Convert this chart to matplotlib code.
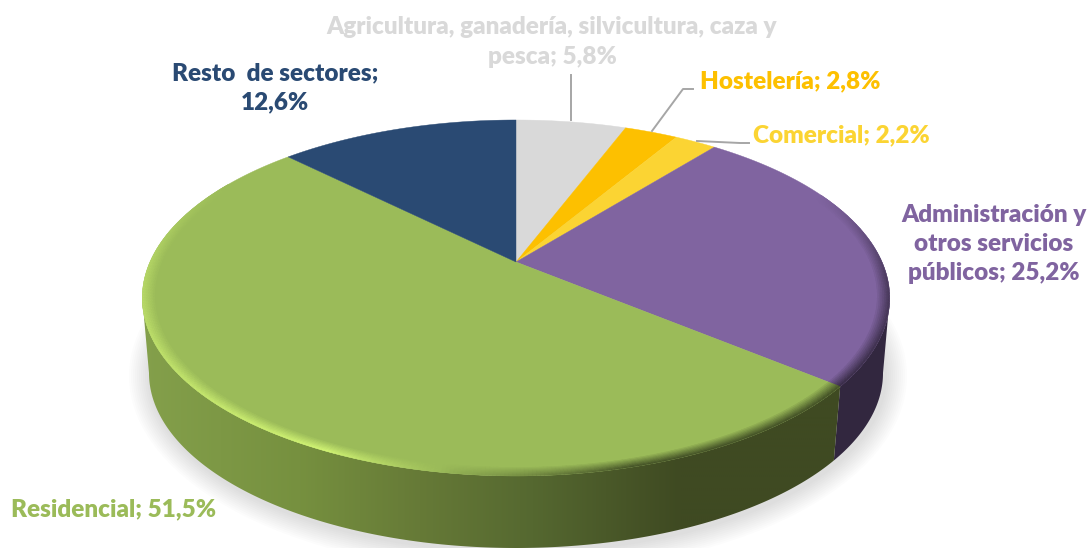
import numpy as np
import matplotlib
matplotlib.use("Agg")
import matplotlib.pyplot as plt
from matplotlib.collections import PolyCollection
from matplotlib.colors import to_rgb
from matplotlib.patches import Ellipse, Polygon

# sectors, clockwise from 12 o'clock
sectors = ["Agricultura", "Hostelería", "Comercial", "Administración", "Residencial", "Resto"]
values = [5.8, 2.8, 2.2, 25.2, 51.5, 12.6]
colors = ["#d9d9d9", "#fdc000", "#fbd433", "#8064a0", "#9bbb59", "#2a4a73"]
labels = [
    "Agricultura, ganadería, silvicultura, caza y\npesca; 5,8%",
    "Hostelería; 2,8%",
    "Comercial; 2,2%",
    "Administración y\notros servicios\npúblicos; 25,2%",
    "Residencial; 51,5%",
    "Resto  de sectores;\n12,6%",
]
label_pos = [(552, 42), (790, 81), (841, 135), (994, 244), (114, 509), (275, 88)]

# geometry of the tilted disc, in image pixels
CX, CY = 516, 262
K, A, S = 0.202, 170.7, 366
BOT_CY, BOT_RX, BOT_RY = 373, 367, 175


def top(theta, r=1.0):
    t = np.radians(theta)
    x, y = r * np.sin(t), r * np.cos(t)
    d = 1 + K * y
    return CX + S * x / d, CY - A * y / d


def bottom(phi):
    t = np.radians(phi)
    return CX + BOT_RX * np.sin(t), BOT_CY - BOT_RY * np.cos(t)


def arc(func, a, b, *args):
    th = np.linspace(a, b, 200)
    x, y = func(th, *args)
    return np.column_stack([x, y])


edges = 360 * np.concatenate([[0], np.cumsum(values)]) / np.sum(values)

fig = plt.figure(figsize=(10.91, 5.48), dpi=100)
ax = fig.add_axes([0, 0, 1, 1])

# soft shadow below the disc
for d in np.arange(22, 0, -2):
    ax.add_patch(Ellipse((CX + 2, BOT_CY + 3), 2 * (BOT_RX + d), 2 * (BOT_RY + d),
                         fc="#808080", ec="none", alpha=0.025, zorder=1))

# side wall: purple part, then green part with its gradient
i_adm, i_res = 3, 4
seam = edges[i_adm + 1]
right = np.vstack([arc(top, 101.7, seam), arc(bottom, 120, 90)])
ax.add_patch(Polygon(right, fc="#32273f", ec="none", zorder=2))

left = np.vstack([arc(top, seam, 258.3), arc(bottom, 270, 120)])
clip = Polygon(left, fc="none", ec="none", zorder=2)
ax.add_patch(clip)
grad_x = [140, 300, 420, 533, 680, 840]
grad_c = ["#84a04b", "#76903f", "#667a37", "#556830", "#3f4a22", "#3f4a22"]
xs = np.linspace(140, 840, 350)
rgb = np.array([to_rgb(c) for c in grad_c])
img = np.stack([np.interp(xs, grad_x, rgb[:, i]) for i in range(3)], axis=1)[None, :, :]
im = ax.imshow(img, extent=(140, 840, 550, 100), aspect="auto", zorder=2, interpolation="bilinear")
im.set_clip_path(clip)

# top face
for a, b, c in zip(edges[:-1], edges[1:], colors):
    pts = np.vstack([[[CX, CY]], arc(top, a, b)])
    ax.add_patch(Polygon(pts, fc=c, ec=c, lw=0.3, zorder=3))

# bevel round the rim: lit at front left, dark at front right
light_th = [0, 65, 95, 130, 165, 188, 205, 240, 270, 300, 360]
light_v = [0, 0, -0.7, -0.95, -0.95, -0.1, 0.9, 0.6, 0.4, 0, 0]
quads, fc = [], []
rs = np.linspace(0.968, 1.0, 8)
for a, b, c in zip(edges[:-1], edges[1:], colors):
    base = np.array(to_rgb(c))
    dark = base * 0.42
    bright = np.clip(base * 1.1 + np.array([0.17, 0.17, 0.08]), 0, 1)
    th = np.arange(a, b + 0.5, 0.5)
    th[-1] = b
    for t0, t1 in zip(th[:-1], th[1:]):
        lv = np.interp((t0 + t1) / 2, light_th, light_v)
        if lv == 0:
            continue
        for j, (r0, r1) in enumerate(zip(rs[:-1], rs[1:])):
            w = abs(lv) * (j + 1) / (len(rs) - 1)
            col = base + (bright - base if lv > 0 else dark - base) * w
            quads.append(np.column_stack([
                [*top(t0, r0)[:1], *top(t1, r0)[:1], *top(t1, r1)[:1], *top(t0, r1)[:1]],
                [*top(t0, r0)[1:], *top(t1, r0)[1:], *top(t1, r1)[1:], *top(t0, r1)[1:]],
            ]))
            fc.append(col)
ax.add_collection(PolyCollection(quads, facecolors=fc, edgecolors=fc, linewidths=0.3, zorder=4))

# leader lines
leader = "#a6a6a6"
ax.plot([571, 571], [75, 120], color=leader, lw=1.4, zorder=5)
ax.plot([693, 683, 652], [89, 89, 131], color=leader, lw=1.4, zorder=5)
ax.plot([697, 740, 749], [141, 143, 143], color=leader, lw=1.4, zorder=5)

for txt, (x, y), c in zip(labels, label_pos, colors):
    ax.text(x, y, txt, color=c, ha="center", va="center", fontsize=17.5, fontweight="heavy",
            family="Lato", linespacing=1.4, zorder=6)

ax.set_xlim(0, 1091)
ax.set_ylim(548, 0)
ax.axis("off")
fig.savefig("out.png", dpi=100)
